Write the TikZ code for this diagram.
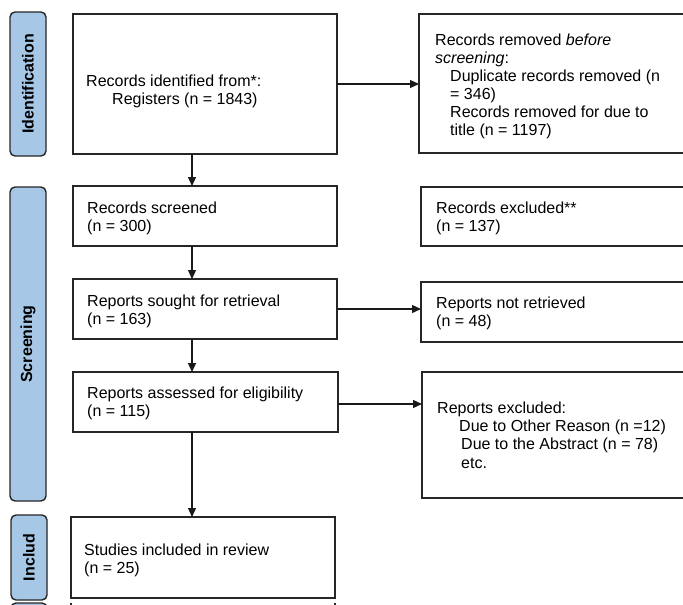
\documentclass[tikz,border=0pt]{standalone}
\usepackage{fontspec}
\setmainfont{Liberation Sans}
\usetikzlibrary{arrows.meta}
\definecolor{lblue}{RGB}{167,199,231}
\begin{document}
\begin{tikzpicture}[x=1pt,y=-1pt,
  bx/.style={draw=black!85,line width=1.4pt,anchor=north west,inner sep=0pt,outer sep=0pt},
  tx/.style={anchor=north west,inner sep=0pt,align=left,font=\fontsize{16}{17.8}\selectfont},
  lbl/.style={draw=black!85,fill=lblue,line width=1.4pt,rounded corners=5pt,anchor=north west,inner sep=0pt,outer sep=0pt},
  lbltx/.style={rotate=90,inner sep=0pt,font=\bfseries\fontsize{16}{18}\selectfont},
  arr/.style={line width=1.3pt,draw=black!90,-{Triangle[length=9pt,width=8pt]}}]
\useasboundingbox (0,0) rectangle (683,605);
\clip (0,0) rectangle (683,605);
% phase labels
\node[lbl,minimum width=36pt,minimum height=144pt] (L1) at (10,12) {};
\node[lbltx] (L1t) at (L1.center) {Identification};
\node[lbl,minimum width=36pt,minimum height=314pt] (L2) at (10,187) {};
\node[lbltx] (L2t) at (L2.center) {Screening};
\node[lbl,minimum width=36pt,minimum height=85pt] (L3) at (11,515) {};
\node[lbltx] (L3t) at (L3.center) {Includ};
\node[lbl,minimum width=36pt,minimum height=80pt] (L4) at (11,603) {};
% boxes
\node[bx,minimum width=264pt,minimum height=140pt] (b1) at (73,14) {};
\node[bx,minimum width=300pt,minimum height=139pt] (r1) at (419,14) {};
\node[bx,minimum width=264pt,minimum height=60pt] (b2) at (73,186) {};
\node[bx,minimum width=300pt,minimum height=59pt] (r2) at (421,187) {};
\node[bx,minimum width=264pt,minimum height=60pt] (b3) at (73,279) {};
\node[bx,minimum width=300pt,minimum height=60pt] (r3) at (421,282) {};
\node[bx,minimum width=265pt,minimum height=60pt] (b4) at (73,372) {};
\node[bx,minimum width=300pt,minimum height=126pt] (r4) at (422,372) {};
\node[bx,minimum width=264pt,minimum height=81pt] (b5) at (71,517) {};
% texts
\node[tx] (t1) at (86,74.5) {\rule{0pt}{12pt}Records identified from*:\\ \hspace*{26pt}Registers (n = 1843)};
\node[tx,font=\fontsize{16}{18}\selectfont] (rt1) at (435,33) {\rule{0pt}{12pt}Records removed \textit{before}\\ \textit{screening}:\\ \hspace*{15pt}Duplicate records removed (n\\ \hspace*{15pt}= 346)\\ \hspace*{15pt}Records removed for due to\\ \hspace*{15pt}title (n = 1197)};
\node[tx] (t2) at (87,201.5) {\rule{0pt}{12pt}Records screened\\(n = 300)};
\node[tx] (rt2) at (436,201) {\rule{0pt}{12pt}Records excluded**\\(n = 137)};
\node[tx] (t3) at (87,294) {\rule{0pt}{12pt}Reports sought for retrieval\\(n = 163)};
\node[tx] (rt3) at (436,296) {\rule{0pt}{12pt}Reports not retrieved\\(n = 48)};
\node[tx] (t4) at (87,386) {\rule{0pt}{12pt}Reports assessed for eligibility\\(n = 115)};
\node[tx,font=\fontsize{16}{18.3}\selectfont] (rt4) at (437,401) {\rule{0pt}{12pt}Reports excluded:\\ \hspace*{22pt}Due to Other Reason (n =12)\\ \hspace*{24pt}Due to the Abstract (n = 78)\\ \hspace*{24pt}etc.};
\node[tx] (t5) at (84,543) {\rule{0pt}{12pt}Studies included in review\\(n = 25)};
% connectors
\coordinate (ax) at (192,0);
\draw[arr] (b1.south -| ax) -- (b2.north -| ax);
\draw[arr] (b1.east) -- (b1.east -| r1.west);
\draw[arr] (b2.south -| ax) -- (b3.north -| ax);
\draw[arr] (b3.east) -- (b3.east -| r3.west);
\draw[arr] (b3.south -| ax) -- (b4.north -| ax);
\draw[arr] ([yshift=-2pt]b4.east) -- ([yshift=-2pt]b4.east -| r4.west);
\draw[arr] (b4.south -| ax) -- (b5.north -| ax);
% cut-off edges of the next box at the bottom
\draw[line width=1.2pt,black!85] (71,603) -- (71,606);
\draw[line width=1.2pt,black!85] (335,603) -- (335,606);
\end{tikzpicture}
\end{document}
